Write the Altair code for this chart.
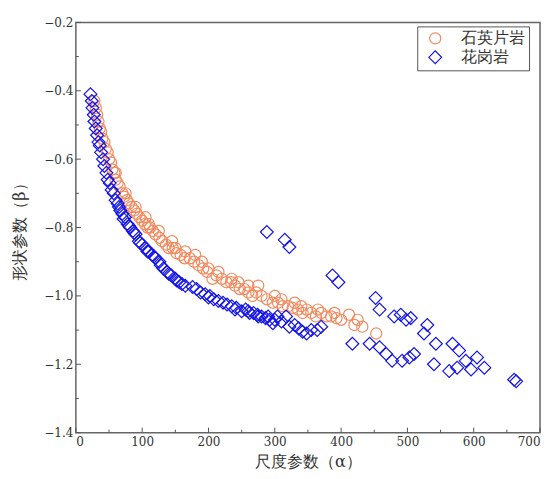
import altair as alt
import pandas as pd

# 石英片岩 (orange circles)
qs_x = [28, 30, 32, 34, 36, 38, 40, 43, 45, 48, 50, 53, 55, 58, 60, 63, 66, 70, 73, 77,
        80, 84, 88, 92, 96, 100, 104, 108, 112, 116, 120, 126, 130, 136, 140, 146, 152, 158,
        164, 172, 178, 185, 192, 198, 206, 212, 220, 227, 234, 240, 247, 254, 260, 266, 272,
        280, 288, 297, 305, 312, 320, 327, 335, 342, 348, 355, 362, 370, 378, 385, 393, 400,
        412, 420, 425, 432, 453, 110, 150, 200, 260, 300, 330, 180, 235,
        60, 75, 90, 105, 125, 145, 165, 190, 215, 245, 275, 310, 340, 365, 390]
qs_y = [-0.43, -0.45, -0.47, -0.49, -0.51, -0.52, -0.54, -0.55, -0.57, -0.58, -0.60, -0.61,
        -0.63, -0.64, -0.66, -0.67, -0.68, -0.70, -0.71, -0.72, -0.73, -0.74, -0.75, -0.76,
        -0.77, -0.78, -0.79, -0.80, -0.80, -0.81, -0.82, -0.83, -0.84, -0.85, -0.86, -0.86,
        -0.875, -0.88, -0.89, -0.89, -0.90, -0.91, -0.92, -0.93, -0.95, -0.94, -0.95, -0.96,
        -0.96, -0.97, -0.98, -0.98, -0.99, -1.00, -0.99, -1.00, -1.01, -1.02, -1.02, -1.03,
        -1.03, -1.035, -1.04, -1.05, -1.04, -1.05, -1.06, -1.05, -1.06, -1.06, -1.065, -1.07,
        -1.055, -1.085, -1.07, -1.09, -1.11, -0.79, -0.86, -0.92, -0.97, -1.00, -1.02, -0.88,
        -0.95,
        -0.64, -0.70, -0.74, -0.77, -0.81, -0.84, -0.87, -0.90, -0.93, -0.96, -0.97, -1.01,
        -1.03, -1.04, -1.05]

# 花岗岩 (blue diamonds)
gr_x = [22, 24, 25, 27, 28, 30, 32, 34, 36, 38, 41, 43, 46, 48, 51, 54, 57, 60, 63, 67, 70,
        74, 78, 82, 86, 90, 95, 100, 105, 110, 115, 120, 126, 132, 138, 144, 150, 156, 176,
        182, 188, 195, 202, 208, 215, 222, 228, 235, 242, 250, 256, 262, 268, 274, 280, 286,
        292, 297, 304, 310, 317, 322, 330, 336, 342, 348, 355, 364, 370,
        288, 315, 322, 387, 396, 452, 458, 480, 490, 498, 505, 417, 443, 458, 468, 477, 492,
        503, 510, 530, 525, 543, 540, 568, 578, 563, 575, 588, 596, 605, 616, 661, 664,
        65, 72, 80, 88, 97, 108, 118, 128, 140, 152, 160, 165, 200, 240, 260, 275, 290, 300]
gr_y = [-0.41, -0.43, -0.45, -0.47, -0.49, -0.51, -0.53, -0.55, -0.56, -0.58, -0.60, -0.62,
        -0.64, -0.66, -0.67, -0.69, -0.70, -0.72, -0.73, -0.75, -0.76, -0.77, -0.79, -0.80,
        -0.81, -0.82, -0.84, -0.85, -0.86, -0.87, -0.88, -0.89, -0.90, -0.92, -0.93, -0.94,
        -0.95, -0.96, -0.974, -0.98, -0.99, -0.995, -1.00, -1.01, -1.015, -1.02, -1.025,
        -1.03, -1.035, -1.045, -1.04, -1.05, -1.05, -1.055, -1.06, -1.065, -1.07, -1.08,
        -1.06, -1.075, -1.06, -1.09, -1.085, -1.095, -1.105, -1.11, -1.10, -1.10, -1.09,
        -0.813, -0.836, -0.857, -0.94, -0.96, -1.006, -1.04, -1.06, -1.055, -1.07, -1.065,
        -1.14, -1.14, -1.15, -1.17, -1.19, -1.19, -1.18, -1.17, -1.085, -1.11, -1.14, -1.20,
        -1.14, -1.16, -1.22, -1.21, -1.19, -1.215, -1.18, -1.21, -1.245, -1.25,
        -0.74, -0.775, -0.795, -0.815, -0.845, -0.87, -0.885, -0.91, -0.935, -0.955, -0.965,
        -0.97, -1.005, -1.04, -1.045, -1.06, -1.06, -1.07]

series = ["石英片岩", "花岗岩"]
colors = ["#F28A5E", "#1414E6"]
shapes = ["circle", "diamond"]
sizes = [125, 165]

x_major = [0, 100, 200, 300, 400, 500, 600, 700]
x_minor = [50, 150, 250, 350, 450, 550, 650]
y_major = [-1.4, -1.2, -1.0, -0.8, -0.6, -0.4, -0.2]
y_minor = [-1.3, -1.1, -0.9, -0.7, -0.5, -0.3]

W, H = 465, 411
FONT = "DejaVu Serif"

df = pd.concat([
    pd.DataFrame({"x": qs_x, "y": qs_y, "type": series[0]}),
    pd.DataFrame({"x": gr_x, "y": gr_y, "type": series[1]}),
])

xscale = alt.Scale(domain=[0, 700], nice=False, zero=False)
yscale = alt.Scale(domain=[-1.4, -0.2], nice=False, zero=False)

points = alt.Chart(df).mark_point(filled=False, strokeWidth=1.2, opacity=1).encode(
    x=alt.X("x:Q", scale=xscale, title="尺度参数（α）",
            axis=alt.Axis(values=x_major, ticks=False, domain=False, grid=False,
                          labelPadding=4, titlePadding=6, labelFont=FONT, titleFont=FONT)),
    y=alt.Y("y:Q", scale=yscale, title="形状参数（β）",
            axis=alt.Axis(values=y_major, format=".1f", ticks=False, domain=False, grid=False,
                          labelPadding=3, titlePadding=16, labelFont=FONT, titleFont=FONT)),
    color=alt.Color("type:N", scale=alt.Scale(domain=series, range=colors),
                    legend=alt.Legend(title=None, labelFont=FONT)),
    shape=alt.Shape("type:N", scale=alt.Scale(domain=series, range=shapes),
                    legend=alt.Legend(title=None, labelFont=FONT)),
    size=alt.Size("type:N", scale=alt.Scale(domain=series, range=sizes), legend=None),
)

def xticks(vals, length):
    return alt.Chart(pd.DataFrame({"x": vals})).mark_rule(color="#555", strokeWidth=1).encode(
        x=alt.X("x:Q", scale=xscale, title="尺度参数（α）"),
        y=alt.value(H), y2=alt.value(H - length))

def yticks(vals, length):
    return alt.Chart(pd.DataFrame({"y": vals})).mark_rule(color="#555", strokeWidth=1).encode(
        y=alt.Y("y:Q", scale=yscale, title="形状参数（β）"),
        x=alt.value(0), x2=alt.value(length))

chart = alt.layer(
    points, xticks(x_major, 5), xticks(x_minor, 3), yticks(y_major, 5), yticks(y_minor, 3)
).properties(
    width=W, height=H,
    autosize=alt.AutoSizeParams(type="none"),
    padding={"left": 68, "top": 14, "right": 10, "bottom": 40},
).configure(
    font=FONT
).configure_view(
    stroke="#666", strokeWidth=1.5
).configure_axis(
    labelFont=FONT, titleFont=FONT, labelFontSize=12, titleFontSize=16,
    labelColor="#333", titleColor="#333", titleFontWeight="normal"
).configure_legend(
    orient="none", legendX=342, legendY=4, strokeColor="#555", strokeWidth=1,
    padding=4, labelFont=FONT, labelFontSize=16, labelColor="#333", symbolSize=120,
    symbolStrokeWidth=1.2, rowPadding=2, labelOffset=18, symbolOffset=6, fillColor="white"
)

chart.save("out.html", embed_options={"renderer": "svg", "actions": False})
